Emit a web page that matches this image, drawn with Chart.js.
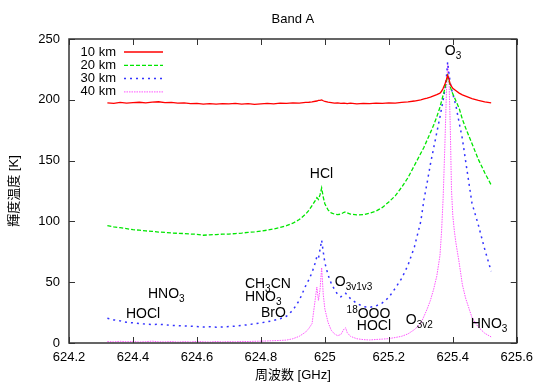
<!DOCTYPE html>
<html>
<head>
<meta charset="utf-8">
<script src="https://cdn.jsdelivr.net/npm/chart.js"></script>
<style>
  html, body { margin: 0; padding: 0; background: #fff; }
  canvas { display: block; }
</style>
</head>
<body>
<canvas id="bandChart" width="540" height="387"></canvas>
<script>
// frequency axis [GHz]
const freq = [
  624.32, 624.34, 624.36, 624.38, 624.40, 624.42, 624.44, 624.46, 624.48, 624.50,
  624.52, 624.54, 624.56, 624.58, 624.60, 624.62, 624.64, 624.66, 624.68, 624.70,
  624.72, 624.74, 624.76, 624.78, 624.80, 624.82, 624.84, 624.86, 624.88, 624.90,
  624.92, 624.94, 624.95, 624.96, 624.97, 624.975, 624.98, 624.985, 624.99, 624.995,
  625.00, 625.01, 625.02, 625.03, 625.04, 625.05, 625.06, 625.065, 625.07, 625.08,
  625.10, 625.12, 625.14, 625.16, 625.18, 625.20, 625.22, 625.24, 625.26, 625.28,
  625.30, 625.31, 625.32, 625.33, 625.34, 625.35, 625.36, 625.365, 625.37, 625.375,
  625.38, 625.384, 625.388, 625.392, 625.396, 625.40, 625.405, 625.41, 625.42, 625.43,
  625.44, 625.46, 625.48, 625.50, 625.52
];

// brightness temperature [K] per tangent height
const tb10 = [
  197.5, 197.0, 197.8, 197.2, 197.6, 198.0, 197.4, 198.1, 198.4, 197.6,
  197.9, 197.2, 197.5, 196.8, 197.1, 196.5, 196.9, 196.4, 196.8, 196.6,
  197.0, 196.5, 196.9, 196.3, 196.7, 197.0, 196.6, 197.2, 197.0, 197.5,
  197.3, 197.8, 198.0, 198.3, 198.8, 199.0, 199.5, 199.6, 199.9, 199.2,
  198.6, 198.0, 197.6, 197.2, 197.5, 197.0, 197.3, 197.1, 196.8, 197.2,
  196.6, 197.0, 196.8, 197.3, 197.0, 197.4, 197.2, 197.8, 198.3, 199.0,
  200.0, 200.7, 201.3, 202.2, 203.2, 204.2, 205.5, 207.0, 209.5, 212.5,
  216.5, 220.0, 217.0, 213.0, 211.0, 209.5, 208.5, 207.5, 205.5, 204.0,
  203.0, 201.0, 199.5, 198.3, 197.5
];
const tb20 = [
  96.5, 95.5, 94.8, 94.0, 93.2, 92.8, 92.2, 91.8, 91.2, 91.0,
  90.5, 90.2, 90.0, 89.6, 89.4, 88.6, 89.0, 89.2, 89.5, 89.6,
  90.0, 90.4, 91.0, 91.4, 92.0, 92.8, 93.8, 95.0, 96.5, 98.5,
  101.5, 106.0, 109.0, 113.0, 117.0, 119.5, 118.0, 122.0, 127.5, 120.0,
  114.5, 109.5, 107.0, 106.0, 105.5, 106.0, 107.5, 107.8, 107.0, 106.0,
  105.3, 105.5, 106.8, 108.5, 111.5, 116.0, 121.0, 128.0, 136.0, 146.0,
  156.0, 161.0, 167.0, 173.0, 179.0, 186.0, 194.0, 199.0, 204.0, 209.0,
  215.0, 220.0, 216.0, 211.0, 207.5, 205.0, 202.0, 199.0, 193.0, 184.0,
  177.0, 164.0, 151.0, 140.0, 130.0
];
const tb30 = [
  20.3, 19.0, 18.2, 17.0, 16.6, 16.0, 15.5, 15.2, 15.4, 15.0,
  14.5, 14.2, 14.0, 13.8, 13.5, 13.2, 13.4, 13.0, 13.2, 13.5,
  13.8, 14.5, 15.0, 15.8, 16.5, 17.5, 18.5, 20.0, 22.0, 27.0,
  35.0, 47.0, 52.0, 58.0, 66.0, 71.0, 69.5, 77.0, 84.5, 75.0,
  66.0, 56.0, 49.0, 44.0, 40.0, 38.0, 39.5, 40.8, 39.5, 36.5,
  32.5, 30.0, 29.3, 30.5, 33.0, 37.5, 45.0, 53.0, 64.0, 79.0,
  100.0, 118.0, 132.0, 147.0, 160.0, 173.0, 186.0, 193.0, 200.0, 208.0,
  218.0, 231.0, 222.0, 214.0, 209.0, 205.0, 200.0, 195.0, 181.0, 168.0,
  150.0, 115.0, 97.0, 77.0, 59.0
];
const tb40 = [
  1.2, 0.9, 1.4, 1.0, 1.3, 0.8, 1.1, 1.5, 1.0, 0.9,
  1.2, 0.8, 1.1, 0.9, 1.3, 1.0, 0.8, 1.2, 0.9, 1.1,
  1.0, 1.3, 1.2, 1.4, 1.5, 1.7, 1.9, 2.1, 2.4, 3.5,
  5.5, 9.0, 12.0, 16.0, 36.0, 46.0, 35.0, 44.0, 62.0, 40.0,
  28.0, 17.0, 10.5, 7.5, 6.0, 7.0, 11.5, 12.5, 8.5, 5.5,
  3.5, 2.8, 2.5, 2.9, 3.2, 3.6, 4.5, 5.5, 7.5, 11.0,
  16.0, 22.0, 28.0, 35.0, 44.0, 55.0, 72.0, 92.0, 120.0, 160.0,
  205.0, 229.0, 218.0, 180.0, 126.0, 105.0, 92.0, 82.0, 66.0, 48.0,
  37.0, 21.0, 13.0, 8.0, 5.0
];

const seriesLabels = ['10 km', '20 km', '30 km', '40 km'];
const xTicks = [624.2, 624.4, 624.6, 624.8, 625.0, 625.2, 625.4, 625.6];
const yTicks = [0, 50, 100, 150, 200, 250];

// molecule labels: anchor in data units, parts = [text, 0 normal / 1 sub / -1 sup]
const notes = [
  { x: 624.953, y: 135.7, parts: [['HCl', 0]] },
  { x: 625.375, y: 236.8, parts: [['O', 0], ['3', 1]] },
  { x: 624.447, y: 37.0, parts: [['HNO', 0], ['3', 1]] },
  { x: 624.378, y: 20.6, parts: [['HOCl', 0]] },
  { x: 624.750, y: 45.2, parts: [['CH', 0], ['3', 1], ['CN', 0]] },
  { x: 624.750, y: 34.5, parts: [['HNO', 0], ['3', 1]] },
  { x: 624.800, y: 21.6, parts: [['BrO', 0]] },
  { x: 625.031, y: 46.9, parts: [['O', 0], ['3v1v3', 1]] },
  { x: 625.068, y: 20.6, parts: [['18', -1], ['OOO', 0]] },
  { x: 625.100, y: 11.1, parts: [['HOCl', 0]] },
  { x: 625.253, y: 15.6, parts: [['O', 0], ['3v2', 1]] },
  { x: 625.456, y: 12.3, parts: [['HNO', 0], ['3', 1]] }
];

const FONT = "'Liberation Sans', 'Noto Sans CJK JP', sans-serif";

function toPoints(values) {
  return freq.map(function (f, i) { return { x: f, y: values[i] }; });
}

function drawParts(ctx, x, y, parts) {
  ctx.textAlign = 'left';
  ctx.textBaseline = 'alphabetic';
  parts.forEach(function (p) {
    var size = p[1] === 0 ? 14 : 10;
    var dy = p[1] === 1 ? 4 : (p[1] === -1 ? -5 : 0);
    ctx.font = size + 'px ' + FONT;
    ctx.fillText(p[0], x, y + dy);
    x += ctx.measureText(p[0]).width;
  });
}

// gnuplot-like frame, inward ticks, legend, title and labels
const decorations = {
  id: 'decorations',
  afterDraw: function (chart) {
    var ctx = chart.ctx;
    var a = chart.chartArea;
    var xs = chart.scales.x, ys = chart.scales.y;
    ctx.save();

    ctx.strokeStyle = '#333';
    ctx.lineWidth = 1.5;
    ctx.strokeRect(a.left, a.top, a.right - a.left, a.bottom - a.top);
    ctx.lineWidth = 1;
    ctx.beginPath();
    xTicks.forEach(function (v) {
      var px = Math.round(xs.getPixelForValue(v)) + 0.5;
      ctx.moveTo(px, a.bottom); ctx.lineTo(px, a.bottom - 6);
      ctx.moveTo(px, a.top); ctx.lineTo(px, a.top + 6);
    });
    yTicks.forEach(function (v) {
      var py = Math.round(ys.getPixelForValue(v)) + 0.5;
      ctx.moveTo(a.left, py); ctx.lineTo(a.left + 6, py);
      ctx.moveTo(a.right, py); ctx.lineTo(a.right - 6, py);
    });
    ctx.stroke();

    // title
    ctx.fillStyle = '#000';
    ctx.font = '13px ' + FONT;
    ctx.textAlign = 'center';
    ctx.textBaseline = 'middle';
    ctx.fillText('Band A', (a.left + a.right) / 2, 19);

    // legend
    chart.data.datasets.forEach(function (ds, i) {
      var cy = a.top + 13 + i * 13.3;
      ctx.font = '13px ' + FONT;
      ctx.textAlign = 'right';
      ctx.textBaseline = 'middle';
      ctx.fillStyle = '#000';
      ctx.fillText(ds.label, a.left + 47, cy);
      ctx.strokeStyle = ds.borderColor;
      ctx.lineWidth = ds.borderWidth;
      ctx.setLineDash(ds.borderDash || []);
      ctx.beginPath();
      ctx.moveTo(a.left + 55, cy);
      ctx.lineTo(a.left + 94, cy);
      ctx.stroke();
      ctx.setLineDash([]);
    });

    // molecule labels
    ctx.fillStyle = '#000';
    notes.forEach(function (n) {
      drawParts(ctx, xs.getPixelForValue(n.x), ys.getPixelForValue(n.y), n.parts);
    });
    ctx.restore();
  }
};

const ctx = document.getElementById('bandChart').getContext('2d');
const bandChart = new Chart(ctx, {
  type: 'line',
  data: {
    datasets: [
      { label: seriesLabels[0], data: toPoints(tb10), borderColor: '#ff0000', borderWidth: 1.3 },
      { label: seriesLabels[1], data: toPoints(tb20), borderColor: '#00e600', borderWidth: 1.3, borderDash: [4, 2] },
      { label: seriesLabels[2], data: toPoints(tb30), borderColor: '#3333ff', borderWidth: 1.5, borderDash: [2, 4] },
      { label: seriesLabels[3], data: toPoints(tb40), borderColor: '#ff55ff', borderWidth: 1, borderDash: [1.5, 1] }
    ]
  },
  options: {
    responsive: false,
    animation: false,
    devicePixelRatio: 1,
    layout: { padding: { top: 39, right: 23, left: 0, bottom: 0 } },
    elements: { point: { radius: 0 }, line: { tension: 0, fill: false } },
    plugins: {
      legend: { display: false },
      title: { display: false },
      tooltip: { enabled: false }
    },
    scales: {
      x: {
        type: 'linear',
        min: 624.2,
        max: 625.6,
        afterBuildTicks: function (s) { s.ticks = xTicks.map(function (v) { return { value: v }; }); },
        afterFit: function (s) { s.height = 44; },
        grid: { display: false, drawTicks: false },
        border: { display: false },
        ticks: {
          autoSkip: false,
          maxRotation: 0,
          padding: 7,
          color: '#000',
          font: { family: FONT, size: 13 },
          callback: function (v) { return String(Number(Number(v).toFixed(1))); }
        },
        title: {
          display: true,
          text: '周波数 [GHz]',
          color: '#000',
          font: { family: FONT, size: 13 },
          padding: { top: 0, bottom: 4 }
        }
      },
      y: {
        min: 0,
        max: 250,
        afterBuildTicks: function (s) { s.ticks = yTicks.map(function (v) { return { value: v }; }); },
        afterFit: function (s) { s.width = 69; },
        grid: { display: false, drawTicks: false },
        border: { display: false },
        ticks: {
          padding: 9,
          color: '#000',
          font: { family: FONT, size: 13 }
        },
        title: {
          display: true,
          text: '輝度温度 [K]',
          color: '#000',
          font: { family: FONT, size: 13 },
          padding: { top: 7, bottom: 0 }
        }
      }
    }
  },
  plugins: [decorations]
});
</script>
</body>
</html>
